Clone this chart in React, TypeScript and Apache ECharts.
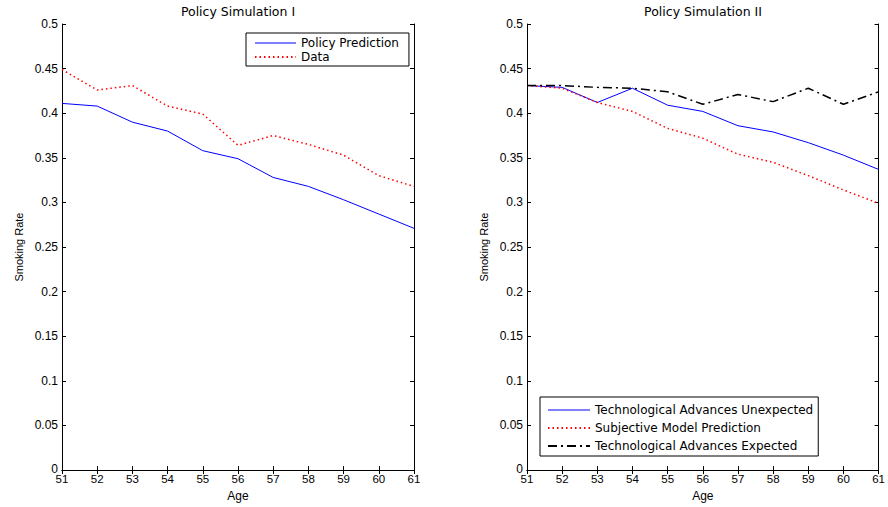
import React, { useEffect, useRef } from "react";
import * as echarts from "echarts";

const ages = [51, 52, 53, 54, 55, 56, 57, 58, 59, 60, 61];
const policyPrediction = [0.411, 0.408, 0.390, 0.380, 0.358, 0.349, 0.328, 0.318, 0.303, 0.287, 0.271];
const dataRate = [0.449, 0.426, 0.431, 0.408, 0.399, 0.364, 0.375, 0.365, 0.353, 0.330, 0.318];
const techUnexpected = [0.431, 0.429, 0.412, 0.428, 0.409, 0.402, 0.386, 0.379, 0.367, 0.353, 0.337];
const subjectivePrediction = [0.431, 0.428, 0.412, 0.402, 0.383, 0.372, 0.354, 0.345, 0.330, 0.314, 0.299];
const techExpected = [0.431, 0.431, 0.429, 0.428, 0.424, 0.410, 0.421, 0.413, 0.428, 0.410, 0.424];

const FONT = "Liberation Sans, Arial, sans-serif";
const WIDE = "DejaVu Sans, Verdana, sans-serif";
const AX = "#000";

function pairs(ys: number[]) {
  return ages.map((a, i) => [a, ys[i]]);
}

export default function App() {
  const ref = useRef<HTMLDivElement>(null);
  useEffect(() => {
    if (!ref.current) return;
    const chart = echarts.init(ref.current, undefined, { renderer: "svg" });
    const labelStyle = { color: "#000", fontSize: 11, fontFamily: FONT };
    const xMain = (gi: number) => ({
      type: "value",
      gridIndex: gi,
      min: 51,
      max: 61,
      interval: 1,
      position: "bottom",
      name: "Age",
      nameLocation: "middle",
      nameGap: 16,
      nameTextStyle: { ...labelStyle, fontSize: 12 },
      axisLine: { show: true, lineStyle: { color: AX, width: 1 } },
      axisTick: { show: true, inside: true, length: 4, lineStyle: { color: AX } },
      axisLabel: { ...labelStyle, fontSize: 11.5, margin: 3 },
      splitLine: { show: false },
    });
    const xTop = (gi: number) => ({
      type: "value",
      gridIndex: gi,
      min: 51,
      max: 61,
      interval: 1,
      position: "top",
      axisLine: { show: true, lineStyle: { color: AX, width: 1 } },
      axisTick: { show: true, inside: true, length: 4, lineStyle: { color: AX } },
      axisLabel: { show: false },
      splitLine: { show: false },
    });
    const yMain = (gi: number) => ({
      type: "value",
      gridIndex: gi,
      min: 0,
      max: 0.5,
      interval: 0.05,
      position: "left",
      name: "Smoking Rate",
      nameLocation: "middle",
      nameGap: 38,
      nameTextStyle: { ...labelStyle, fontSize: 11 },
      axisLine: { show: true, lineStyle: { color: AX, width: 1 } },
      axisTick: { show: true, inside: true, length: 4, lineStyle: { color: AX } },
      axisLabel: {
        ...labelStyle,
        fontSize: 12,
        margin: 4,
        formatter: (v: number) => (v === 0 ? "{z|0}" : String(+v.toFixed(2))),
        rich: { z: { ...labelStyle, fontSize: 12, padding: [0, 0, 3, 0] } },
      },
      splitLine: { show: false },
    });
    const yRight = (gi: number) => ({
      type: "value",
      gridIndex: gi,
      min: 0,
      max: 0.5,
      interval: 0.05,
      position: "right",
      axisLine: { show: true, lineStyle: { color: AX, width: 1 } },
      axisTick: { show: true, inside: true, length: 4, lineStyle: { color: AX } },
      axisLabel: { show: false },
      splitLine: { show: false },
    });
    const lineSeries = (
      name: string,
      ys: number[],
      xi: number,
      yi: number,
      color: string,
      type: any,
      width: number
    ) => ({
      name,
      type: "line",
      xAxisIndex: xi,
      yAxisIndex: yi,
      data: pairs(ys),
      symbol: "none",
      showSymbol: false,
      lineStyle: { color, width, type },
      itemStyle: { color },
      z: 3,
    });
    const legendCommon = {
      orient: "vertical",
      backgroundColor: "#fff",
      borderColor: "#000",
      borderWidth: 1,
      borderRadius: 0,
      itemHeight: 14,
      itemStyle: { color: "transparent", opacity: 0, borderWidth: 0 },
      textStyle: { color: "#000", fontSize: 12, fontFamily: WIDE },
    };
    chart.setOption({
      animation: false,
      backgroundColor: "#fff",
      title: [
        {
          text: "Policy Simulation I",
          left: 238,
          top: 5,
          padding: 0,
          textAlign: "center",
          textStyle: { fontSize: 12.5, fontWeight: "normal", color: "#000", fontFamily: WIDE },
        },
        {
          text: "Policy Simulation II",
          left: 703,
          top: 5,
          padding: 0,
          textAlign: "center",
          textStyle: { fontSize: 12.5, fontWeight: "normal", color: "#000", fontFamily: WIDE },
        },
      ],
      legend: [
        {
          ...legendCommon,
          data: [
            { name: "Policy Prediction", lineStyle: { width: 1 } },
            { name: "Data" },
          ],
          left: 246,
          top: 33,
          padding: [4, 10, 3, 8],
          itemGap: 2,
          itemWidth: 41,
        },
        {
          ...legendCommon,
          data: [
            { name: "Technological Advances Unexpected", lineStyle: { width: 1 } },
            { name: "Subjective Model Prediction" },
            { name: "Technological Advances Expected" },
          ],
          left: 540,
          top: 397,
          padding: [7, 5, 4, 7],
          itemGap: 6,
          itemWidth: 42,
        },
      ],
      grid: [
        { left: 62, right: 474, top: 24, bottom: 31 },
        { left: 527, right: 8, top: 24, bottom: 31 },
      ],
      xAxis: [xMain(0), xTop(0), xMain(1), xTop(1)],
      yAxis: [yMain(0), yRight(0), yMain(1), yRight(1)],
      series: [
        lineSeries("Policy Prediction", policyPrediction, 0, 0, "#0000ff", "solid", 1),
        lineSeries("Data", dataRate, 0, 0, "#ff0000", [1.5, 3], 1.5),
        lineSeries("Technological Advances Unexpected", techUnexpected, 2, 2, "#0000ff", "solid", 1),
        lineSeries("Subjective Model Prediction", subjectivePrediction, 2, 2, "#ff0000", [1.5, 3], 1.5),
        lineSeries("Technological Advances Expected", techExpected, 2, 2, "#000000", [9, 4, 2, 4], 1.5),
      ],
    });
    return () => chart.dispose();
  }, []);
  return <div ref={ref} style={{ width: 888, height: 507, position: "absolute", left: 0, top: 0 }} />;
}
